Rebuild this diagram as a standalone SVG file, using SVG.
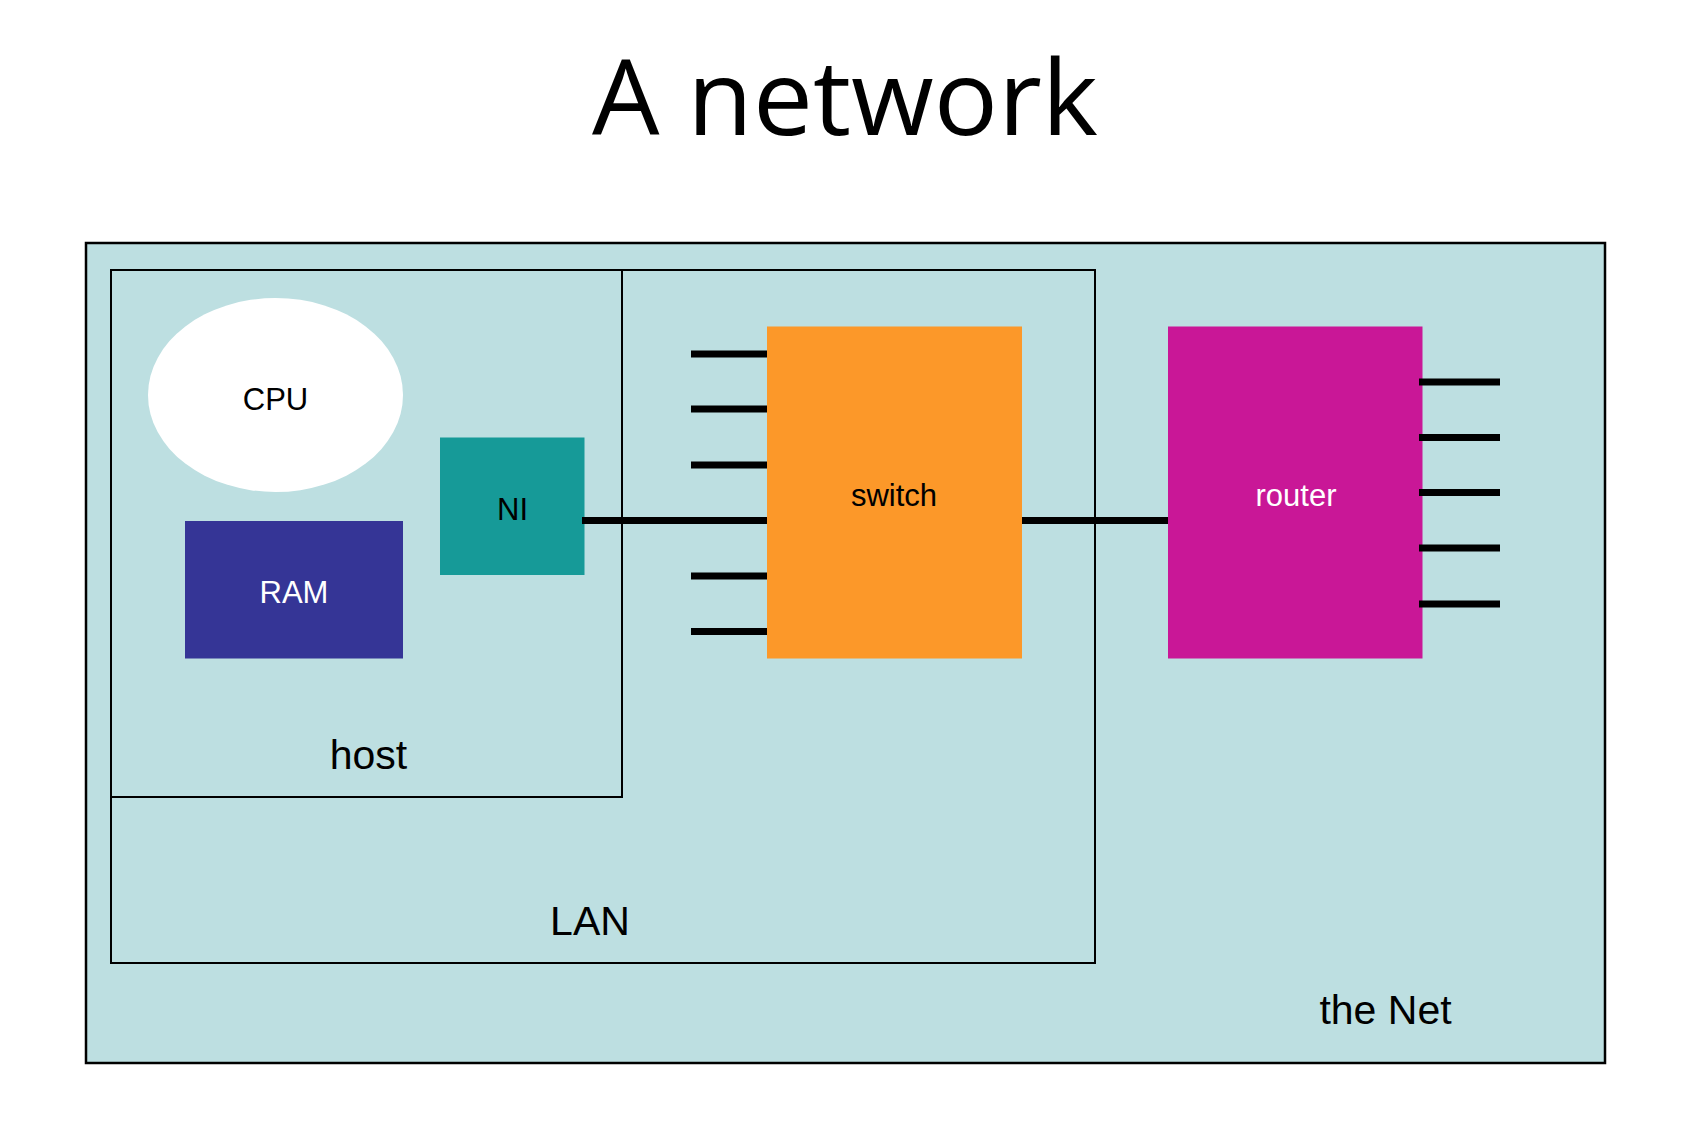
<svg xmlns="http://www.w3.org/2000/svg" width="1690" height="1134" viewBox="0 0 1690 1134">
<style>
.box{fill:none;stroke:#000;stroke-width:2}
.lbl{font-family:"Liberation Sans",Arial,sans-serif;text-anchor:middle}
.big{font-size:41px;fill:#000}
.mid{font-size:31px}
.wire{stroke:#000;stroke-width:7;fill:none}
</style>
<rect width="1690" height="1134" fill="#fff"/>
<text x="845" y="135" font-family="'Open Sans','Noto Sans',sans-serif" font-size="104" text-anchor="middle" textLength="506" lengthAdjust="spacingAndGlyphs" fill="#000">A network</text>
<g id="net">
<rect x="86" y="243" width="1519" height="820" fill="#BDDFE1" stroke="#000" stroke-width="2.5"/>
<text class="lbl big" x="1385.5" y="1024">the Net</text>
</g>
<g id="lan">
<rect class="box" x="111" y="270" width="984" height="693"/>
<text class="lbl big" x="590" y="935">LAN</text>
</g>
<g id="host">
<rect class="box" x="111" y="270" width="511" height="527"/>
<text class="lbl big" x="368.5" y="769">host</text>
</g>
<g id="cpu">
<ellipse cx="275.5" cy="395" rx="127.5" ry="97" fill="#fff"/>
<text class="lbl mid" x="275.5" y="409.5" fill="#000">CPU</text>
</g>
<g id="ram">
<rect x="185" y="521" width="218" height="137.5" fill="#353596"/>
<text class="lbl mid" x="294" y="603" fill="#fff">RAM</text>
</g>
<g id="ni">
<rect x="440" y="437.5" width="144.5" height="137.5" fill="#169A98"/>
<text class="lbl mid" x="512.5" y="519.5" fill="#000">NI</text>
</g>
<g id="switch">
<rect x="767" y="326.5" width="255" height="332" fill="#FC9829"/>
<text class="lbl mid" x="894" y="505.5" fill="#000">switch</text>
</g>
<g id="router">
<rect x="1168" y="326.5" width="254.5" height="332" fill="#C91797"/>
<text class="lbl mid" x="1296" y="505.5" fill="#fff">router</text>
</g>
<g id="connectors">
<line class="wire" x1="582" y1="520.5" x2="767" y2="520.5"/>
<line class="wire" x1="1022" y1="520.5" x2="1168" y2="520.5"/>
<line class="wire" x1="691" y1="354" x2="767" y2="354"/>
<line class="wire" x1="691" y1="409" x2="767" y2="409"/>
<line class="wire" x1="691" y1="465" x2="767" y2="465"/>
<line class="wire" x1="691" y1="576" x2="767" y2="576"/>
<line class="wire" x1="691" y1="631.5" x2="767" y2="631.5"/>
<line class="wire" x1="1419" y1="382" x2="1500" y2="382"/>
<line class="wire" x1="1419" y1="437.5" x2="1500" y2="437.5"/>
<line class="wire" x1="1419" y1="492.5" x2="1500" y2="492.5"/>
<line class="wire" x1="1419" y1="548" x2="1500" y2="548"/>
<line class="wire" x1="1419" y1="604" x2="1500" y2="604"/>
</g>
</svg>
